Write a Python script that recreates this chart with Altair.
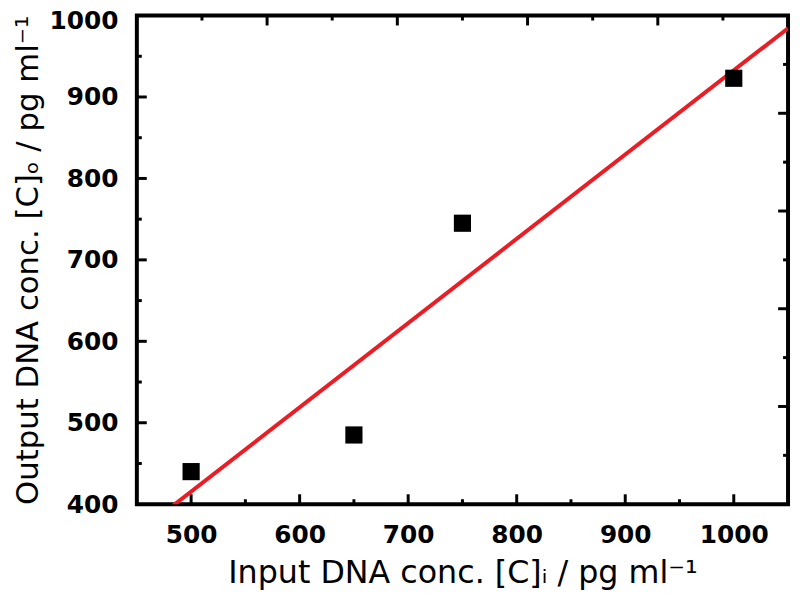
import altair as alt
import pandas as pd

# data
input_conc = [500, 650, 750, 1000]
output_conc = [440, 485, 745, 923]

x_labels = [500, 600, 700, 800, 900, 1000]
x_minor = [550, 650, 750, 850, 950]
y_labels = [400, 500, 600, 700, 800, 900, 1000]
y_major_inner = [500, 600, 700, 800, 900]
y_minor = [450, 550, 650, 750, 850, 950]
top_major = [570, 690, 810, 930]
top_minor = [510, 630, 750, 870, 990]
right_major = [520, 640, 760, 880]
right_minor = [460, 580, 700, 820, 940]

W, H = 657, 493
MAJ, MIN = 10, 5

pts = pd.DataFrame({"x": input_conc, "y": output_conc})

xscale = alt.Scale(domain=[450, 1050], nice=False, zero=False)
yscale = alt.Scale(domain=[400, 1000], nice=False, zero=False)

xaxis = alt.Axis(
    values=x_labels, format="d", domain=False, ticks=False, grid=False,
    labelFont="DejaVu Sans", labelFontWeight="bold", labelFontSize=25,
    labelColor="black", labelPadding=19, labelFlush=False, labelOverlap=False,
    title="Input DNA conc. [C]ᵢ / pg ml⁻¹",
    titleFont="DejaVu Sans", titleFontWeight="normal", titleFontSize=32,
    titleColor="black", titlePadding=10,
)
yaxis = alt.Axis(
    values=y_labels, format="d", domain=False, ticks=False, grid=False,
    labelFont="DejaVu Sans", labelFontWeight="bold", labelFontSize=25,
    labelColor="black", labelPadding=19, labelFlush=False, labelOverlap=False,
    labelOffset={"condition": {"test": "datum.value == 1000", "value": 5}, "value": 0},
    title="Output DNA conc. [C]ₒ / pg ml⁻¹",
    titleFont="DejaVu Sans", titleFontWeight="normal", titleFontSize=31,
    titleColor="black", titlePadding=5,
)

X = alt.X("x:Q", scale=xscale, axis=xaxis)
Y = alt.Y("y:Q", scale=yscale, axis=yaxis)

points = alt.Chart(pts).mark_square(size=300, color="black", opacity=1).encode(x=X, y=Y)

fit = (
    alt.Chart(pts)
    .transform_regression("x", "y", extent=[450, 1050])
    .mark_line(color="#ec1c24", strokeWidth=4, clip=True)
    .encode(x=X, y=Y)
)

def xticks(vals, top, length):
    df = pd.DataFrame({"x": vals})
    if top:
        ya, yb = 0, length
    else:
        ya, yb = H, H - length
    return alt.Chart(df).mark_rule(color="black", strokeWidth=3).encode(
        x=X, y=alt.value(ya), y2=alt.value(yb)
    )

def yticks(vals, right, length):
    df = pd.DataFrame({"y": vals})
    if right:
        xa, xb = W, W - length
    else:
        xa, xb = 0, length
    return alt.Chart(df).mark_rule(color="black", strokeWidth=3).encode(
        y=Y, x=alt.value(xa), x2=alt.value(xb)
    )

layers = [
    xticks(x_labels, False, MAJ),
    xticks(x_minor, False, MIN),
    xticks(top_major, True, MAJ),
    xticks(top_minor, True, MIN),
    yticks(y_major_inner, False, MAJ),
    yticks(y_minor, False, MIN),
    yticks(right_major, True, MAJ),
    yticks(right_minor, True, MIN),
    fit,
    points,
]

chart = (
    alt.layer(*layers)
    .properties(
        width=W, height=H,
        autosize=alt.AutoSizeParams(type="none"),
        padding={"left": 130, "top": 5, "right": 4, "bottom": 90},
        background="white",
    )
    .configure_view(stroke="black", strokeWidth=4)
)

chart.save("out.html", embed_options={"renderer": "svg", "actions": False})
